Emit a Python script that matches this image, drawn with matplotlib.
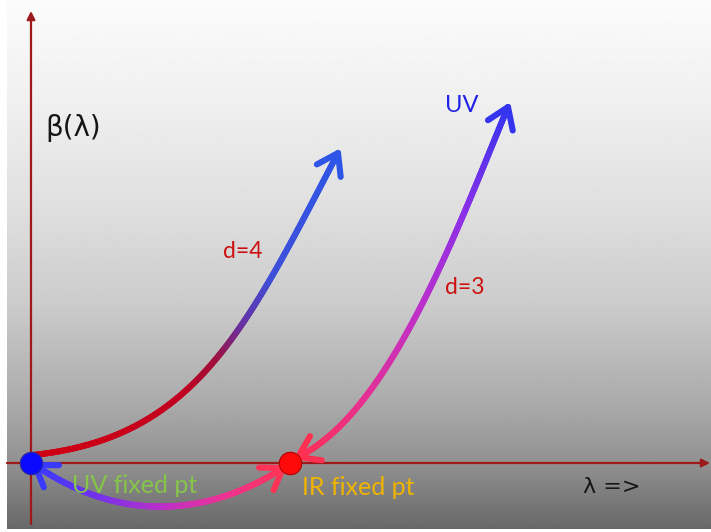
import numpy as np
import matplotlib
matplotlib.use("Agg")
import matplotlib.pyplot as plt
from matplotlib.collections import LineCollection
from matplotlib.colors import LinearSegmentedColormap
from matplotlib.bezier import BezierSegment

# ---- diagram data (coupling-space units; origin = UV fixed point) ----
uv_fixed = (0, 0)
ir_fixed = (259, 0)

# cubic Bezier control points of each flow curve (start -> end)
d4_ctrl = [(2, 8), (164, 25), (214, 132), (307, 310)]          # UV fixed pt -> UV
d3_ctrl = [(267, 6), (359, 51), (425, 231), (477, 356)]        # IR fixed pt <-> UV
bottom_ctrl = [(252, -5), (178, -53), (90, -61), (4, -2)]      # IR <-> UV fixed pt

# colour stops along each curve (parameter, colour)
d4_colors = [(0.0, '#d00012'), (0.40, '#c20020'), (0.52, '#a0103c'),
             (0.62, '#6a30a0'), (0.74, '#3f4fd8'), (1.0, '#2f55e6')]
d3_colors = [(0.0, '#ff3050'), (0.25, '#e83090'), (0.5, '#c030c8'),
             (0.75, '#8a30e8'), (1.0, '#3535f0')]
bottom_colors = [(0.0, '#ff3355'), (0.25, '#f03390'), (0.5, '#c030c8'),
                 (0.75, '#7a32e8'), (1.0, '#3a3aff')]

# background gradient stops (height above bottom edge, grey level)
bg_y = [-66, 0, 60, 160, 263, 363, 463]
bg_level = [0.41, 0.57, 0.67, 0.80, 0.88, 0.94, 0.985]

axis_color = '#9e1a1a'

fig = plt.figure(figsize=(7.11, 5.32), dpi=100)
ax = fig.add_axes([0, 0, 1, 1])
ax.set_xlim(-31, 680)
ax.set_ylim(-69, 463)
ax.axis('off')

# background
ys = np.linspace(-66, 463, 400)
g = np.interp(ys, bg_y, bg_level)
img = np.repeat(g[:, None], 2, axis=1)
ax.imshow(img, cmap='gray', vmin=0, vmax=1, origin='lower',
          extent=[-24, 680, -66, 463], aspect='auto', zorder=0,
          interpolation='bilinear')

# axes with arrows
ax.annotate('', xy=(0, 452), xytext=(0, -61),
            arrowprops=dict(arrowstyle='-|>', color=axis_color, lw=1.6,
                            mutation_scale=12, shrinkA=0, shrinkB=0), zorder=2)
ax.annotate('', xy=(679, 0), xytext=(-24, 0),
            arrowprops=dict(arrowstyle='-|>', color=axis_color, lw=1.6,
                            mutation_scale=12, shrinkA=0, shrinkB=0), zorder=2)

LW = 4.4


def chevron(tip, direction, color, length=24, half_angle=34):
    d = np.asarray(direction, float)
    d = d / np.linalg.norm(d)
    back = -d
    pts = []
    for sgn in (1, -1):
        a = np.deg2rad(sgn * half_angle)
        rot = np.array([[np.cos(a), -np.sin(a)], [np.sin(a), np.cos(a)]])
        pts.append(np.asarray(tip) + length * rot @ back)
    xs = [pts[0][0], tip[0], pts[1][0]]
    ys_ = [pts[0][1], tip[1], pts[1][1]]
    ax.plot(xs, ys_, color=color, lw=LW, solid_capstyle='round',
            solid_joinstyle='round', zorder=4)


def gradient_curve(ctrl, stops, arrow_start=False, arrow_end=True):
    seg = BezierSegment(np.array(ctrl, float))
    t = np.linspace(0, 1, 300)
    pts = seg(t)
    cmap = LinearSegmentedColormap.from_list('c', stops)
    segs = np.stack([pts[:-1], pts[1:]], axis=1)
    lc = LineCollection(segs, colors=cmap((t[:-1] + t[1:]) / 2), linewidths=LW,
                        capstyle='round', joinstyle='round', zorder=3)
    ax.add_collection(lc)
    c = np.array(ctrl, float)
    if arrow_end:
        chevron(c[-1], c[-1] - c[-2], cmap(1.0))
    if arrow_start:
        chevron(c[0], c[0] - c[1], cmap(0.0))


gradient_curve(d4_ctrl, d4_colors, arrow_end=True)
gradient_curve(d3_ctrl, d3_colors, arrow_start=True, arrow_end=True)
gradient_curve(bottom_ctrl, bottom_colors, arrow_start=True, arrow_end=True)

# fixed points
ax.scatter([uv_fixed[0]], [uv_fixed[1]], s=260, color='#0a0aff',
           edgecolors='#2a2a9a', linewidths=0.8, zorder=5)
ax.scatter([ir_fixed[0]], [ir_fixed[1]], s=260, color='#ff0a0a',
           edgecolors='#b00000', linewidths=0.8, zorder=5)

# labels
latin = ['Lato', 'DejaVu Sans']
ax.text(14, 335, 'β(λ)', fontsize=20, family=['DejaVu Sans'], color='#151515',
        va='center', ha='left', zorder=6)
ax.text(552, -30, 'λ =>', fontsize=16, family=['DejaVu Sans'], color='#151515',
        va='baseline', ha='left', zorder=6)
ax.text(414, 351, 'UV', fontsize=17, family=latin, color='#2020e6',
        va='baseline', ha='left', zorder=6)
ax.text(192, 205, 'd=4', fontsize=16.5, family=latin, color='#cc1111',
        va='baseline', ha='left', zorder=6)
ax.text(414, 169, 'd=3', fontsize=16.5, family=latin, color='#cc1111',
        va='baseline', ha='left', zorder=6)
ax.text(41, -30, 'UV fixed pt', fontsize=18, family=latin, color='#86c44a',
        va='baseline', ha='left', zorder=6)
ax.text(271, -32, 'IR fixed pt', fontsize=18, family=latin, color='#f0b400',
        va='baseline', ha='left', zorder=6)

fig.savefig('out.png', dpi=100)
